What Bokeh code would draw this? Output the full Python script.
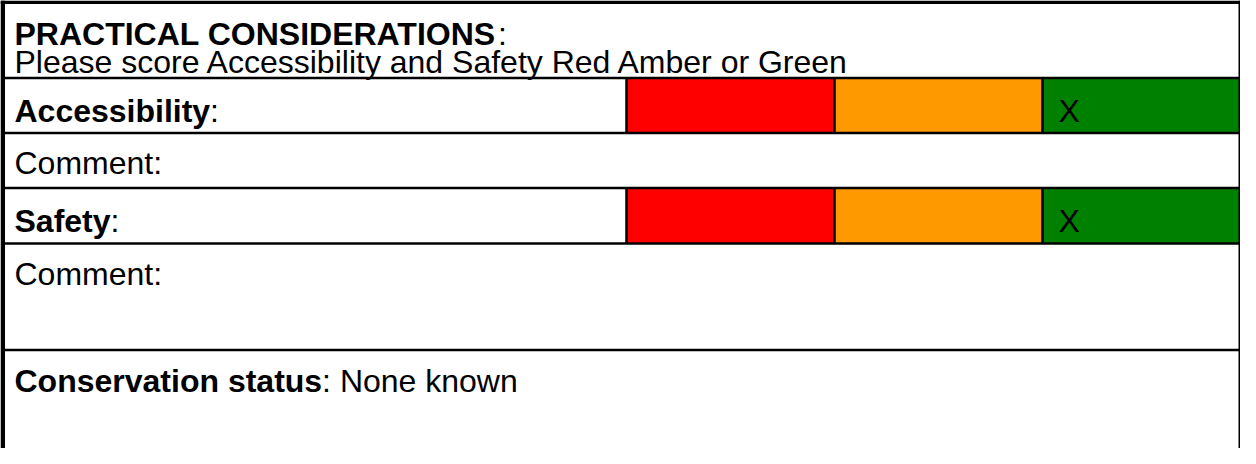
from bokeh.plotting import figure
from bokeh.models import Range1d, ColumnDataSource
from bokeh.core.properties import value
from bokeh.embed import file_html
from bokeh.resources import INLINE

# ---- content ----
section_title = "PRACTICAL CONSIDERATIONS"
instruction = "Please score Accessibility and Safety Red Amber or Green"
criteria = ["Accessibility", "Safety"]
rating_levels = ["Red", "Amber", "Green"]
rating_colors = ["#ff0000", "#ff9900", "#008000"]
selected = ["Green", "Green"]
comment_label = "Comment:"
conservation_label = "Conservation status"
conservation_value = "None known"

FONT = "Liberation Sans"
FS = "32px"

# ---- layout (screen pixel coordinates) ----
X0, X1 = 8, 1248
Y0, Y1 = 8, 456
row_lines = [85.5, 140.5, 195.5, 251, 357.5]
crit_rows = [(85.5, 140.5), (195.5, 251)]
col_edges = [634, 842, 1050, 1247]

p = figure(width=1240, height=448, output_backend="svg", toolbar_location=None,
           x_range=Range1d(X0, X1), y_range=Range1d(Y1, Y0),
           min_border=0, tools="")
p.axis.visible = False
p.grid.visible = False
p.outline_line_color = None
p.background_fill_color = "white"
p.border_fill_color = "white"

# coloured rating cells
ql, qr, qt, qb, qc = [], [], [], [], []
for (top, bot) in crit_rows:
    for i, c in enumerate(rating_colors):
        ql.append(col_edges[i]); qr.append(col_edges[i + 1])
        qt.append(top); qb.append(bot); qc.append(c)
p.quad(left=ql, right=qr, top=qt, bottom=qb, fill_color=qc, line_color=None)

# borders
p.quad(left=[X0], right=[X1], top=[Y0], bottom=[11.5], fill_color="black", line_color=None)
p.quad(left=[X0], right=[12.5], top=[Y0], bottom=[Y1], fill_color="black", line_color=None)
p.segment(x0=[1247], x1=[1247], y0=[Y0], y1=[Y1], line_color="black", line_width=2)

# horizontal rules
p.segment(x0=[12] * len(row_lines), x1=[1247] * len(row_lines), y0=row_lines, y1=row_lines,
          line_color="black", line_width=2.5)
# vertical separators in criteria rows
vx0, vy0, vy1 = [], [], []
for (top, bot) in crit_rows:
    for x in col_edges[:3]:
        vx0.append(x); vy0.append(top); vy1.append(bot)
p.segment(x0=vx0, x1=vx0, y0=vy0, y1=vy1, line_color="black", line_width=2.5)

def txt(x, y, s, bold=False, size=FS):
    p.text(x=[x], y=[y], text=[s], text_font=value(FONT), text_font_size=size,
           text_font_style="bold" if bold else "normal", text_color="black",
           text_baseline="alphabetic", text_align="left")

# title
txt(22, 41, section_title, bold=True)
txt(22 + 483.6, 41, ":")
txt(22, 69, instruction)

# criteria rows
crit_base = [118, 228]
crit_bold_w = [195.6, 96.0]
for name, yb, w, sel in zip(criteria, crit_base, crit_bold_w, selected):
    txt(22, yb, name, bold=True)
    txt(22 + w, yb, ":")
    j = rating_levels.index(sel)
    txt(col_edges[j] + 16, yb, "X")

# comments
txt(22, 170, comment_label)
txt(22, 281, comment_label)

# conservation
txt(22, 388, conservation_label, bold=True)
txt(22 + 307.6, 388, ": " + conservation_value)

open("out.html", "w").write(file_html(p, INLINE))
